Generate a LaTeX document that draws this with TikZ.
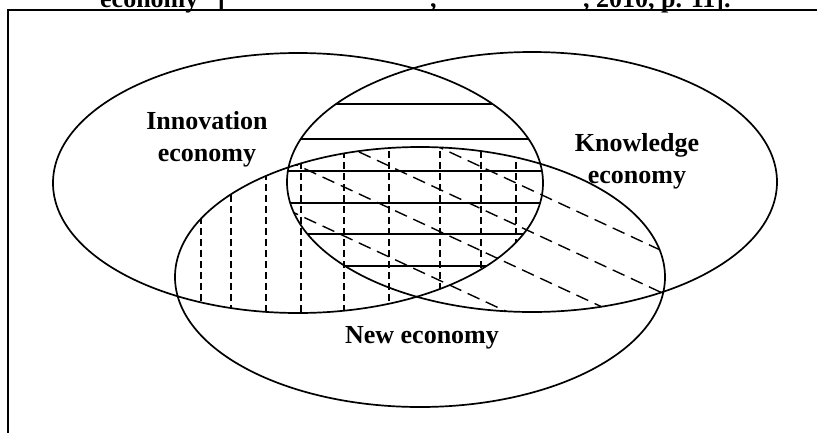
\documentclass[tikz,border=0pt]{standalone}
\usepackage{fontspec}
\setmainfont{Liberation Serif}
\usepackage{tikz}
\usetikzlibrary{positioning,calc}

\tikzset{
    setline/.style={line width=1.7pt},
    hhatch/.style={line width=1.4pt},
    vhatch/.style={line width=1.4pt, dash pattern=on 7pt off 4pt},
    dhatch/.style={line width=1.4pt, dash pattern=on 13pt off 7pt},
    setlabel/.style={font=\fontsize{26}{32}\selectfont\bfseries, align=center, inner sep=0pt}
}

\begin{document}
\begin{tikzpicture}[x=1pt, y=-1pt]
    \useasboundingbox (0,0) rectangle (817,432);

    % frame and cut title line
    \draw[setline] (8,445) -- (8,10) -- (830,10);
    \node[setlabel, anchor=base west] (capA) at (100,7) {economy” [};
    \node[setlabel, anchor=base west] (capB) at (430,7) {,};
    \node[setlabel, anchor=base west] (capC) at (583,7) {, 2010, p. 11].};

    % Innovation & Knowledge: horizontal lines
    \begin{scope}
        \clip (298,183) ellipse [x radius=245pt, y radius=130pt];
        \clip (532,182) ellipse [x radius=245pt, y radius=130pt];
        \foreach \y in {104,139,171,203,234,266}
            \draw[hhatch] (250,\y) -- (600,\y);
    \end{scope}

    % Innovation & New: vertical dashes
    \begin{scope}
        \clip (298,183) ellipse [x radius=245pt, y radius=130pt];
        \clip (420,277) ellipse [x radius=245pt, y radius=130pt];
        \foreach \x in {201,231,266,301,344,389,440,481,516}
            \draw[vhatch] (\x,140) -- (\x,320);
    \end{scope}

    % Knowledge & New: slanted dashes
    \begin{scope}
        \clip (532,182) ellipse [x radius=245pt, y radius=130pt];
        \clip (420,277) ellipse [x radius=245pt, y radius=130pt];
        \foreach \c in {-57,-15,27,76}
            \draw[dhatch] (250,{0.465*250+\c}) -- (700,{0.465*700+\c});
    \end{scope}

    % the three sets
    \draw[setline] (298,183) ellipse [x radius=245pt, y radius=130pt];
    \draw[setline] (532,182) ellipse [x radius=245pt, y radius=130pt];
    \draw[setline] (420,277) ellipse [x radius=245pt, y radius=130pt];

    \node[setlabel] (innov) at (207,139) {Innovation\\economy};
    \node[setlabel] (knowl) at (637,161) {Knowledge\\economy};
    \node[setlabel] (neweco) at (422,338) {New economy};
\end{tikzpicture}
\end{document}
